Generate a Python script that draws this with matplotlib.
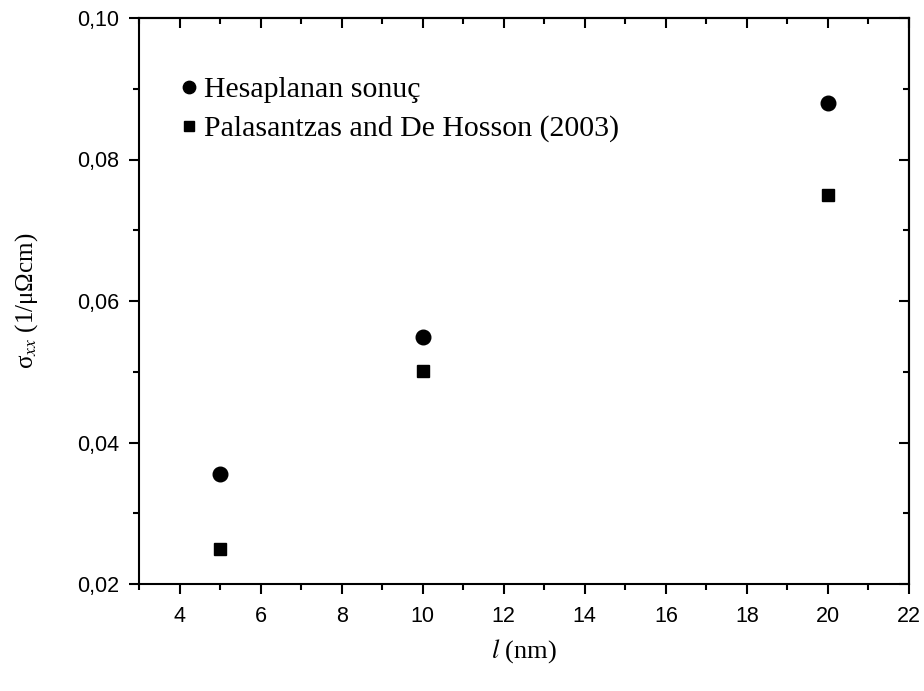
import matplotlib
matplotlib.use("Agg")
import matplotlib.pyplot as plt
from matplotlib.ticker import MultipleLocator, FuncFormatter

# thickness l (nm) and conductivity sigma_xx (1/uOhm cm)
l_nm = [5, 10, 20]
sigma_calc = [0.0355, 0.0549, 0.0880]
sigma_ref = [0.0250, 0.0501, 0.0750]
labels = ["Hesaplanan sonuç", "Palasantzas and De Hosson (2003)"]

SERIF = ["Liberation Serif", "DejaVu Serif"]
plt.rcParams["font.family"] = ["Liberation Sans", "DejaVu Sans"]
plt.rcParams["mathtext.fontset"] = "stix"
plt.rcParams["xtick.labelsize"] = 15.5
plt.rcParams["ytick.labelsize"] = 15.5

fig = plt.figure(figsize=(9.24, 6.91), dpi=100)
ax = fig.add_axes([139 / 924, 1 - 584 / 691, 770 / 924, 566 / 691])

ax.plot(l_nm, sigma_calc, "o", color="black", ms=10.5, label=labels[0])
ax.plot(l_nm, sigma_ref, "s", color="black", ms=9, label=labels[1])

ax.set_xlim(3, 22)
ax.set_ylim(0.02, 0.10)
ax.xaxis.set_major_locator(MultipleLocator(2))
ax.xaxis.set_minor_locator(MultipleLocator(1))
ax.yaxis.set_major_locator(MultipleLocator(0.02))
ax.yaxis.set_minor_locator(MultipleLocator(0.01))
ax.yaxis.set_major_formatter(FuncFormatter(lambda v, p: f"{v:.2f}".replace(".", ",")))

for s in ax.spines.values():
    s.set_linewidth(1.5)
ax.tick_params(which="major", direction="out", length=7, width=1.5, pad=7)
ax.tick_params(which="minor", direction="out", length=4, width=1.5)
ax.tick_params(axis="x", which="major", pad=9)

# top and right axes carry inward ticks without labels
top = ax.secondary_xaxis("top")
right = ax.secondary_yaxis("right")
for sec in (top, right):
    sec.tick_params(which="major", direction="in", length=7, width=1.5)
    sec.tick_params(which="minor", direction="in", length=4, width=1.5)
    for s in sec.spines.values():
        s.set_linewidth(1.5)
top.xaxis.set_major_locator(MultipleLocator(2))
top.xaxis.set_minor_locator(MultipleLocator(1))
top.set_xticklabels([])
right.yaxis.set_major_locator(MultipleLocator(0.02))
right.yaxis.set_minor_locator(MultipleLocator(0.01))
right.set_yticklabels([])

ax.set_xlabel(r"$\mathit{l}$ (nm)", family=SERIF, fontsize=19, labelpad=7)
ax.set_ylabel(r"σ$_{\mathit{xx}}$ (1/μΩcm)", family=SERIF, fontsize=18,
              labelpad=27)

ax.legend(loc="upper left", bbox_to_anchor=(0.03, 0.918), frameon=False,
          prop={"family": SERIF, "size": 21.5}, handletextpad=0.0,
          handlelength=1.0, labelspacing=0.4, borderaxespad=0,
          markerscale=0.85)

fig.savefig("out.png", dpi=100)
